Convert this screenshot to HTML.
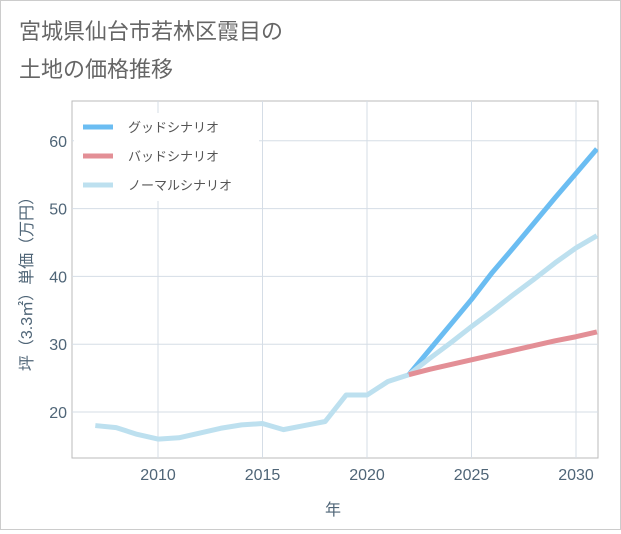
<!DOCTYPE html>
<html><head><meta charset="utf-8"><style>
body{margin:0;background:#fff}
.w{width:619px;height:528px;border:1px solid #ccc;position:relative;font-family:"Liberation Sans","Noto Sans CJK JP",sans-serif}
</style></head><body>
<div class="w">
<svg id="c" width="619" height="528"></svg>
</div>
<script>
const years=[2007,2008,2009,2010,2011,2012,2013,2014,2015,2016,2017,2018,2019,2020,2021,2022];
const hist=[18,17.7,16.7,16,16.2,16.9,17.6,18.1,18.3,17.4,18,18.6,22.5,22.5,24.5,25.5];
const projYears=[2022,2023,2024,2025,2026,2027,2028,2029,2030,2031];
const good=[25.5,29.2,32.9,36.6,40.6,44.2,47.9,51.6,55.2,58.8];
const bad=[25.5,26.3,27,27.7,28.4,29.1,29.8,30.5,31.1,31.8];
const normal=[25.5,27.9,30.2,32.6,34.9,37.3,39.6,42,44.2,46.0];
const xTicks=[2010,2015,2020,2025,2030];
const yTicks=[20,30,40,50,60];
const L=71,R=597,T=100,B=457;
const X=y=>157+(y-2010)*20.9;
const Y=v=>411-(v-20)*6.78;
const s=document.getElementById('c');const ns='http://www.w3.org/2000/svg';
const TC='#4f6577';
function el(t,a,txt){const e=document.createElementNS(ns,t);for(const k in a)e.setAttribute(k,a[k]);if(txt!=null)e.textContent=txt;s.appendChild(e);return e;}
let e;
e=el('text',{x:18,y:38,'font-size':22,fill:'#666'},'宮城県仙台市若林区霞目の');

e=el('text',{x:18,y:76,'font-size':22,fill:'#666'},'土地の価格推移');

e=el('rect',{x:L,y:T,width:R-L,height:B-T,fill:'#fff',stroke:'#bbb'});

xTicks.forEach(t=>{e=el('line',{x1:X(t),x2:X(t),y1:T,y2:B,stroke:'#d5dde6'});

e=el('text',{x:X(t),y:479,'font-size':16,fill:TC,'text-anchor':'middle'},t);
});
yTicks.forEach(t=>{e=el('line',{x1:L,x2:R,y1:Y(t),y2:Y(t),stroke:'#d5dde6'});

e=el('text',{x:66,y:Y(t)+6,'font-size':16,fill:TC,'text-anchor':'end'},t);
});
e=el('text',{x:332,y:514,'font-size':16,fill:TC,'text-anchor':'middle'},'年');

e=el('text',{x:0,y:0,'font-size':16,fill:TC,'text-anchor':'middle',transform:'translate(31,279) rotate(-90)'},'坪（3.3㎡）単価（万円）');

const cp=el('clipPath',{id:'cp'});const cr=document.createElementNS(ns,'rect');
cr.setAttribute('x',L);cr.setAttribute('y',T);cr.setAttribute('width',R-L);cr.setAttribute('height',B-T);cp.appendChild(cr);
function line(xs,vs,col,name){const d=xs.map((x,i)=>(i?'L':'M')+X(x)+','+Y(vs[i])).join('');
const p=el('path',{d:d,fill:'none',stroke:col,'stroke-width':5,'stroke-linejoin':'round','clip-path':'url(#cp)'});
}
line(years,hist,'#bde0ef','history-line');
line(projYears,good,'#6bbdf2','good-scenario-line');
line(projYears,normal,'#bde0ef','normal-scenario-line');
line(projYears,bad,'#e38f96','bad-scenario-line');
e=el('rect',{x:73,y:112,width:185,height:88,fill:'#fff'});

[['グッドシナリオ','#6bbdf2'],['バッドシナリオ','#e38f96'],['ノーマルシナリオ','#bde0ef']].forEach((l,i)=>{
const y=126+i*29;
e=el('line',{x1:82,x2:112,y1:y,y2:y,stroke:l[1],'stroke-width':5});

e=el('text',{x:127,y:y+5,'font-size':13,fill:'#555'},l[0]);
});
</script>
</body></html>
